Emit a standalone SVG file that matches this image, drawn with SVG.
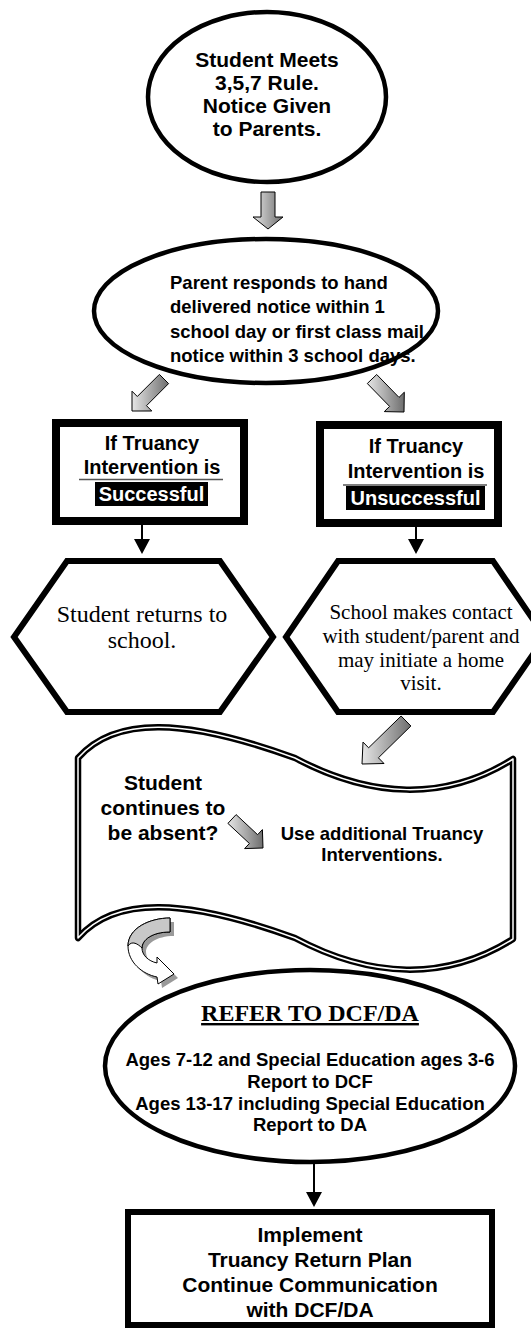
<svg xmlns="http://www.w3.org/2000/svg" width="531" height="1328" viewBox="0 0 531 1328">
<style>
.b{font-family:"Liberation Sans",Arial,sans-serif;font-weight:bold;fill:#000;text-anchor:middle}
.bl{font-family:"Liberation Sans",Arial,sans-serif;font-weight:bold;fill:#000;text-anchor:start}
.s{font-family:"Liberation Serif","Times New Roman",serif;fill:#000;text-anchor:middle}
.ell{fill:#fff;stroke:#000;stroke-width:4.5}
.box{fill:#fff;stroke:#000;stroke-width:8}
.hex{fill:#fff;stroke:#000;stroke-width:6;stroke-linejoin:miter}
.blk{fill:url(#g);stroke:#000;stroke-width:1}
.thin{stroke:#000;stroke-width:2;fill:none}
.w{fill:#fff}
</style>
<defs>
<linearGradient id="g" gradientUnits="objectBoundingBox" x1="0" y1="0" x2="1" y2="0">
<stop offset="0" stop-color="#e6e6e6"/>
<stop offset="1" stop-color="#6e6e6e"/>
</linearGradient>
</defs>
<rect width="531" height="1328" fill="#fff"/>

<g id="n1">
<ellipse class="ell" cx="267" cy="97" rx="119" ry="85"/>
<text class="b" font-size="21" x="267" y="67">Student Meets</text>
<text class="b" font-size="21" x="267" y="90">3,5,7 Rule.</text>
<text class="b" font-size="21" x="267" y="113">Notice Given</text>
<text class="b" font-size="21" x="267" y="136">to Parents.</text>
</g>

<g id="n2">
<ellipse class="ell" cx="266" cy="311" rx="172" ry="72"/>
<text class="bl" font-size="18.5" x="170" y="289">Parent responds to hand</text>
<text class="bl" font-size="18.5" x="170" y="313">delivered notice within 1</text>
<text class="bl" font-size="18.5" x="170" y="338">school day or first class mail</text>
<text class="bl" font-size="18.5" x="170" y="362">notice within 3 school days.</text>
</g>

<g id="n3">
<rect class="box" x="56" y="423" width="188" height="98"/>
<text class="b" font-size="20" x="152" y="450">If Truancy</text>
<text class="b" font-size="20" x="152" y="474">Intervention is</text>
<line x1="79" y1="479.5" x2="223" y2="479.5" stroke="#555" stroke-width="1.5"/>
<rect x="95" y="482" width="113" height="24" fill="#000"/>
<text class="b w" font-size="20" x="151.5" y="501">Successful</text>
</g>

<g id="n4">
<rect class="box" x="320" y="425" width="178" height="98"/>
<text class="b" font-size="20" x="416" y="453">If Truancy</text>
<text class="b" font-size="20" x="416" y="478">Intervention is</text>
<line x1="343" y1="485" x2="487" y2="485" stroke="#555" stroke-width="1.5"/>
<rect x="346" y="486" width="139" height="24" fill="#000"/>
<text class="b w" font-size="20" x="415.5" y="505">Unsuccessful</text>
</g>

<g id="n5">
<polygon class="hex" points="67,561 220,561 273,637 220,712 67,712 14,637"/>
<text class="s" font-size="24" x="142" y="622">Student returns to</text>
<text class="s" font-size="24" x="142" y="648">school.</text>
</g>

<g id="n6">
<polygon class="hex" points="338,561 493,561 545,637 493,712 338,712 286,637"/>
<text class="s" font-size="21" x="421" y="619">School makes contact</text>
<text class="s" font-size="21" x="421" y="643">with student/parent and</text>
<text class="s" font-size="21" x="421" y="667">may initiate a home</text>
<text class="s" font-size="21" x="421" y="690">visit.</text>
</g>

<g id="n7">
<path d="M78,758 C115,716 185,718 295,758 C370,798 445,802 513,759 L513,939 C445,982 370,978 295,938 C185,898 115,896 78,938 Z" fill="#fff" stroke="#000" stroke-width="6.5" stroke-linejoin="round"/>
<path d="M78,758 C115,716 185,718 295,758 C370,798 445,802 513,759 L513,939 C445,982 370,978 295,938 C185,898 115,896 78,938 Z" fill="none" stroke="#fff" stroke-width="1.5" stroke-linejoin="round"/>
<text class="b" font-size="21" x="163" y="790">Student</text>
<text class="b" font-size="21" x="163" y="815">continues to</text>
<text class="b" font-size="21" x="163" y="840">be absent?</text>
<text class="b" font-size="18.5" x="382" y="840">Use additional Truancy</text>
<text class="b" font-size="18.5" x="382" y="861">Interventions.</text>
</g>

<g id="n8">
<ellipse class="ell" cx="310" cy="1066" rx="205" ry="96"/>
<text class="s" font-size="24" font-weight="bold" x="310" y="1021" text-decoration="underline">REFER TO DCF/DA</text>
<text class="b" font-size="18.5" x="310" y="1066">Ages 7-12 and Special Education ages 3-6</text>
<text class="b" font-size="18.5" x="310" y="1088">Report to DCF</text>
<text class="b" font-size="18.5" x="310" y="1110">Ages 13-17 including Special Education</text>
<text class="b" font-size="18.5" x="310" y="1131">Report to DA</text>
</g>

<g id="n9">
<rect x="128" y="1212" width="364" height="113" fill="#fff" stroke="#000" stroke-width="6"/>
<text class="b" font-size="21" x="310" y="1242">Implement</text>
<text class="b" font-size="21" x="310" y="1267">Truancy Return Plan</text>
<text class="b" font-size="21" x="310" y="1292">Continue Communication</text>
<text class="b" font-size="21" x="310" y="1317">with DCF/DA</text>
</g>

<g id="connectors">
<polygon class="blk" points="261,192 261,217 253,217 268,229 283,217 275,217 275,192"/>
<polygon class="blk" points="159.4,374.4 137.3,396.5 132,391.2 132,411 151.8,411 146.5,405.7 168.6,383.6"/>
<polygon class="blk" points="367.3,383.5 389.6,406.4 384.3,411.6 404,412 404.3,392.2 399,397.4 376.7,374.5"/>
<line class="thin" x1="142" y1="525" x2="142" y2="541"/>
<polygon points="134,539 150,539 142,554" fill="#000"/>
<line class="thin" x1="416" y1="527" x2="416" y2="541"/>
<polygon points="408,539 424,539 416,554" fill="#000"/>
<polygon class="blk" points="401.1,716 368.6,747.8 363,742.1 362,764 384,763.5 378.4,757.8 410.9,726"/>
<polygon class="blk" points="227.9,823.4 249.4,843.5 244.6,848.6 263,848 262.4,829.6 257.6,834.7 236.1,814.6"/>
<g id="curved">
<path d="M174,922 C154,922 132,932 132,950 C132,966 146,978 161,981 L162,988 L178,978 L161,961 L161,967 C152,965 146,959 146,952 C146,944 156,936 174,936 Z" fill="#9a9a9a"/>
<path d="M170,918 C150,918 128,928 128,946 C128,962 142,974 157,977 L158,984 L174,974 L157,957 L157,963 C148,961 142,955 142,948 C142,940 152,932 170,932 Z" fill="#fff" stroke="#000" stroke-width="1"/>
<path d="M170,918 C150,918 128,928 128,946 C132,940 138,944 142,948 C142,940 152,932 170,932 Z" fill="#c8c8c8" stroke="#000" stroke-width="1"/>
</g>
<line class="thin" x1="314" y1="1164" x2="314" y2="1194"/>
<polygon points="306,1192 322,1192 314,1207" fill="#000"/>
</g>
</svg>
